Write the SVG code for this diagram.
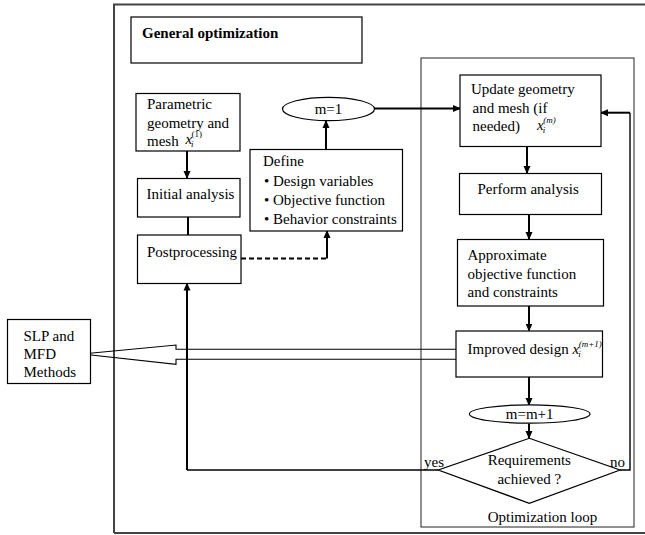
<svg xmlns="http://www.w3.org/2000/svg" width="645" height="535" viewBox="0 0 645 535">
<style>
text{font-size:15px;fill:#000}
.b{font-weight:bold}
.box{fill:#fff;stroke:#000;stroke-width:1.2}
.frame{fill:none;stroke:#444;stroke-width:2}
.inner{fill:none;stroke:#222;stroke-width:1}
.c{fill:none;stroke:#000;stroke-width:2}
.t{fill:none;stroke:#000;stroke-width:1.4}
.it{font-style:italic}
.sm{font-size:9px}
.mid{text-anchor:middle}
</style>
<defs>
<marker id="ah" markerWidth="8" markerHeight="8" refX="7" refY="4" orient="auto" markerUnits="userSpaceOnUse">
<path d="M0,0.5 L8,4 L0,7.5 Z" fill="#000"/>
</marker>
</defs>
<rect x="-5" y="-5" width="655" height="545" fill="#fff"/>
<g font-family="Liberation Serif, Tinos, Times New Roman, Times, DejaVu Serif, serif">
<g id="frames">
<path class="frame" d="M114,533 L114,4.5 L650,4.5 M114,533 L650,533"/>
<rect class="inner" x="421" y="58" width="213" height="469"/>
</g>
<g id="connectors">
<path class="c" d="M187,151 L187,178" marker-end="url(#ah)"/>
<path class="c" d="M188,217 L188,235"/>
<path class="c" d="M241,258.5 L327,258.5" stroke-dasharray="5,3"/>
<path class="c" d="M327,258.5 L327,231" marker-end="url(#ah)"/>
<path class="c" d="M326,149.5 L326,121" marker-end="url(#ah)"/>
<path class="c" d="M374.5,108.5 L460,108.5" marker-end="url(#ah)"/>
<path class="c" d="M527,147 L527,173" marker-end="url(#ah)"/>
<path class="c" d="M529,214.5 L529,239" marker-end="url(#ah)"/>
<path class="c" d="M529,306 L529,330.5" marker-end="url(#ah)"/>
<path class="c" d="M529,377 L529,405" marker-end="url(#ah)"/>
<path class="c" d="M529,423.5 L529,438" marker-end="url(#ah)"/>
<path class="t" d="M438.5,470 L187,470"/>
<path class="c" d="M187,470 L187,283.5" marker-end="url(#ah)"/>
<path class="t" d="M620,470 L630,470 L630,112.7"/>
<path class="c" d="M630,112.7 L601,112.7" marker-end="url(#ah)"/>
<path fill="none" stroke="#000" stroke-width="1.1" d="M456,349.3 L176,349.3 L176,345 L82,354 L176,364.3 L176,359.3 L456,359.3"/>
</g>
<g id="general">
<rect class="box" x="131" y="17" width="231" height="46"/>
<text class="b" x="142" y="37.5">General optimization</text>
</g>
<g id="parametric">
<rect class="box" x="136" y="93.5" width="104" height="57.5"/>
<text x="147" y="109">Parametric</text>
<text x="147" y="127.5">geometry and</text>
<text x="147" y="145.5">mesh <tspan class="it" dx="3" dy="-1.5">x</tspan><tspan class="sm it" dx="-1" dy="3">i</tspan><tspan class="sm" dx="-2" dy="-10">(1)</tspan></text>
</g>
<g id="initial">
<rect class="box" x="137.5" y="178.5" width="102.5" height="38.5"/>
<text x="146.5" y="198.5">Initial analysis</text>
</g>
<g id="postprocessing">
<rect class="box" x="137.5" y="235" width="103.5" height="48.5"/>
<text x="147" y="256.5">Postprocessing</text>
</g>
<g id="define">
<rect class="box" x="250" y="149.5" width="152.5" height="81.5"/>
<text x="263" y="166">Define</text>
<text x="264" y="186">• Design variables</text>
<text x="264" y="205">• Objective function</text>
<text x="264" y="224">• Behavior constraints</text>
</g>
<g id="m1">
<ellipse class="box" cx="328.5" cy="109" rx="46" ry="11.7"/>
<text class="mid" x="328.5" y="113.5">m=1</text>
</g>
<g id="update">
<rect class="box" x="460" y="75" width="141" height="71.5"/>
<text x="471" y="94">Update geometry</text>
<text x="472.5" y="112.5">and mesh (if</text>
<text x="472.5" y="130.5">needed)<tspan class="it" dx="17" dy="-0.5">x</tspan><tspan class="sm it" dx="-1" dy="3">i</tspan><tspan class="sm it" dx="-2" dy="-10">(m)</tspan></text>
</g>
<g id="perform">
<rect class="box" x="459.5" y="173.5" width="142" height="41"/>
<text x="477.5" y="194">Perform analysis</text>
</g>
<g id="approximate">
<rect class="box" x="457.5" y="239.5" width="146" height="66.5"/>
<text x="467.5" y="260">Approximate</text>
<text x="467.5" y="278.5">objective function</text>
<text x="467.5" y="296.5">and constraints</text>
</g>
<g id="improved">
<rect class="box" x="456" y="331" width="146.5" height="46"/>
<text x="467.5" y="354">Improved design <tspan class="it">x</tspan><tspan class="sm it" dx="-1" dy="3">i</tspan><tspan class="sm it" dx="-2" dy="-10">(m+1)</tspan></text>
</g>
<g id="mm1">
<ellipse class="box" cx="529.7" cy="414" rx="60.3" ry="9.2"/>
<text class="mid" x="529.7" y="418.5">m=m+1</text>
</g>
<g id="decision">
<polygon class="box" points="529.3,438.3 620,470 529.3,503.3 438.3,470"/>
<text class="mid" x="529.3" y="465">Requirements</text>
<text class="mid" x="529.3" y="484">achieved ?</text>
<text x="424" y="466.5">yes</text>
<text x="610" y="466.5">no</text>
</g>
<text class="mid" x="542.5" y="521.5">Optimization loop</text>
<g id="slp">
<rect class="box" x="7.5" y="319.5" width="83" height="64"/>
<text x="23.5" y="341">SLP and</text>
<text x="23.5" y="358.5">MFD</text>
<text x="23.5" y="376.5">Methods</text>
</g>
</g>
</svg>
